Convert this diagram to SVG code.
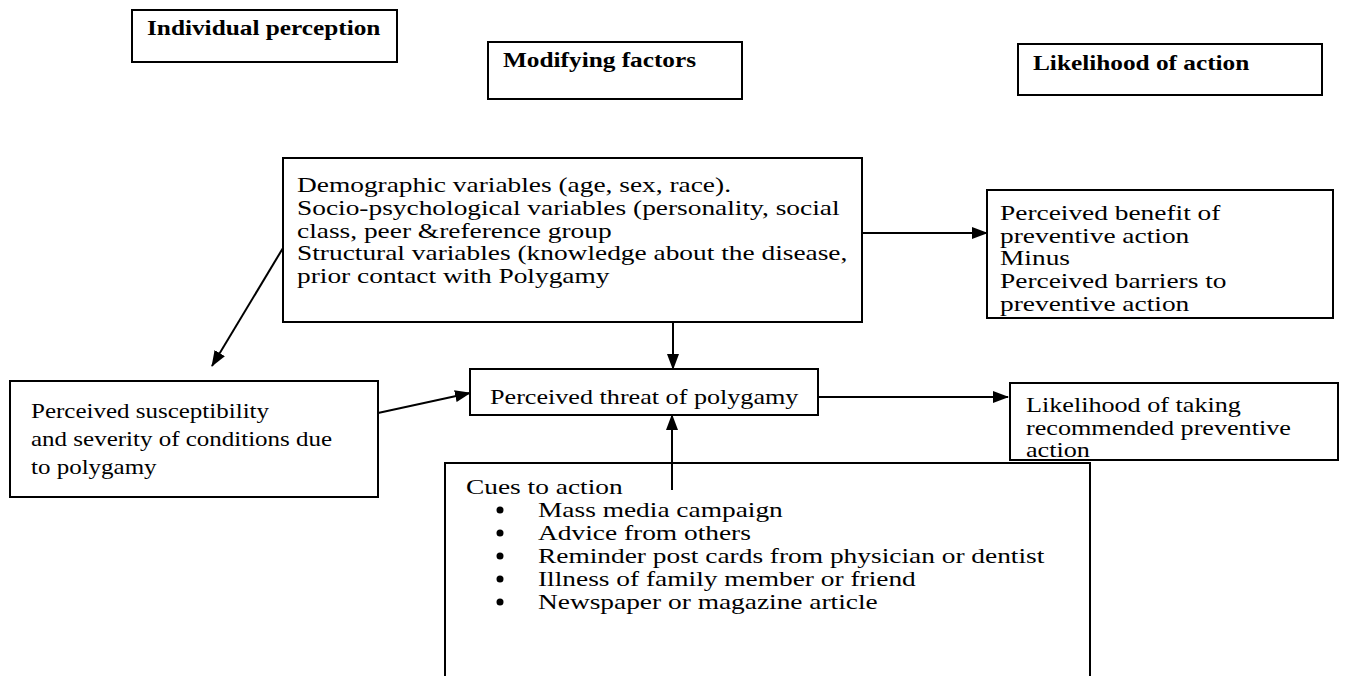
<svg xmlns="http://www.w3.org/2000/svg" width="1348" height="676" viewBox="0 0 1348 676">
<defs>
<marker id="ah" markerWidth="16" markerHeight="12" refX="15" refY="6" orient="auto" markerUnits="userSpaceOnUse">
<path d="M0,0 L16,6 L0,12 Z" fill="#000"/>
</marker>
<style>
.box{fill:#fff;stroke:#000;stroke-width:2}
.t{font-family:"Liberation Serif","Times New Roman",serif;font-size:22px;fill:#000}
.h{font-family:"Liberation Serif","Times New Roman",serif;font-size:22px;font-weight:bold;fill:#000}
.c{fill:none;stroke:#000;stroke-width:2}
</style>
</defs>
<rect width="1348" height="676" fill="#fff"/>
<g id="hdr-individual">
<rect class="box" x="132" y="10" width="265" height="52"/>
<text class="h" transform="translate(147,0) scale(1.15,1)" x="0" y="35">Individual perception</text>
</g>
<g id="hdr-modifying">
<rect class="box" x="488" y="42" width="254" height="57"/>
<text class="h" transform="translate(503,0) scale(1.15,1)" x="0" y="67">Modifying factors</text>
</g>
<g id="hdr-likelihood">
<rect class="box" x="1018" y="44" width="304" height="51"/>
<text class="h" transform="translate(1033,0) scale(1.15,1)" x="0" y="70">Likelihood of action</text>
</g>
<g id="modifying">
<rect class="box" x="283" y="158" width="579" height="164"/>
<text class="t" transform="translate(297,0) scale(1.245,1)"><tspan x="0" y="192">Demographic variables (age, sex, race).</tspan><tspan x="0" y="215">Socio-psychological variables (personality, social</tspan><tspan x="0" y="238">class, peer &amp;reference group</tspan><tspan x="0" y="260">Structural variables (knowledge about the disease,</tspan><tspan x="0" y="283">prior contact with Polygamy</tspan></text>
</g>
<g id="benefit">
<rect class="box" x="987" y="190" width="346" height="128"/>
<text class="t" transform="translate(1000,0) scale(1.245,1)"><tspan x="0" y="220">Perceived benefit of</tspan><tspan x="0" y="243">preventive action</tspan><tspan x="0" y="265">Minus</tspan><tspan x="0" y="288">Perceived barriers to</tspan><tspan x="0" y="311">preventive action</tspan></text>
</g>
<g id="susceptibility">
<rect class="box" x="10" y="381" width="368" height="116"/>
<text class="t" style="font-size:21px" transform="translate(31,0) scale(1.19,1)"><tspan x="0" y="418">Perceived susceptibility</tspan><tspan x="0" y="446">and severity of conditions due</tspan><tspan x="0" y="474">to polygamy</tspan></text>
</g>
<g id="threat">
<rect class="box" x="470" y="369" width="348" height="46"/>
<text class="t" style="font-size:21px" transform="translate(490,0) scale(1.245,1)" x="0" y="404">Perceived threat of polygamy</text>
</g>
<g id="taking">
<rect class="box" x="1010" y="383" width="328" height="77"/>
<text class="t" style="font-size:21px" transform="translate(1026,0) scale(1.245,1)"><tspan x="0" y="412">Likelihood of taking</tspan><tspan x="0" y="435">recommended preventive</tspan><tspan x="0" y="457">action</tspan></text>
</g>
<g id="cues">
<path class="c" d="M445,676 V463 H1090 V676"/>
<text class="t" transform="translate(466,0) scale(1.245,1)" x="0" y="494">Cues to action</text>
<text class="t" transform="translate(538,0) scale(1.245,1)"><tspan x="0" y="517">Mass media campaign</tspan><tspan x="0" y="540">Advice from others</tspan><tspan x="0" y="563">Reminder post cards from physician or dentist</tspan><tspan x="0" y="586">Illness of family member or friend</tspan><tspan x="0" y="609">Newspaper or magazine article</tspan></text>
<g fill="#000"><circle cx="500" cy="510" r="3.5"/><circle cx="500" cy="533" r="3.5"/><circle cx="500" cy="556" r="3.5"/><circle cx="500" cy="579" r="3.5"/><circle cx="500" cy="602" r="3.5"/></g>
</g>
<g id="connectors">
<line class="c" x1="283" y1="248" x2="212" y2="366" marker-end="url(#ah)"/>
<line class="c" x1="862" y1="233" x2="987" y2="233" marker-end="url(#ah)"/>
<line class="c" x1="673" y1="322" x2="673" y2="369" marker-end="url(#ah)"/>
<line class="c" x1="378" y1="413" x2="470" y2="393" marker-end="url(#ah)"/>
<line class="c" x1="818" y1="397" x2="1008" y2="397" marker-end="url(#ah)"/>
<line class="c" x1="672" y1="490" x2="672" y2="415" marker-end="url(#ah)"/>
</g>
</svg>
